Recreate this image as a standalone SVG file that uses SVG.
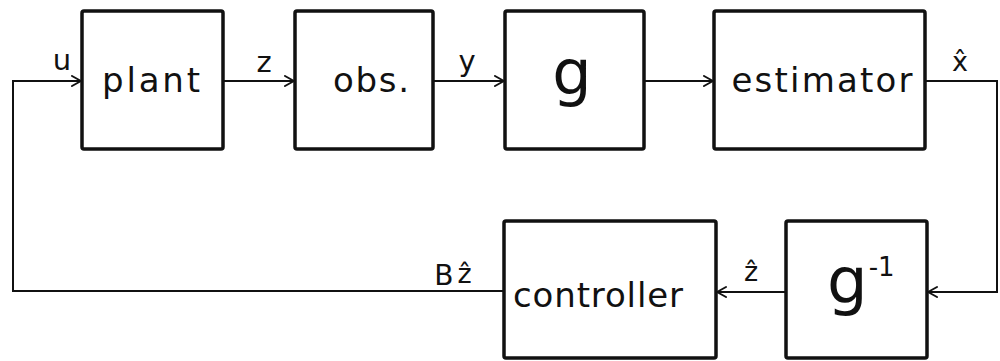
<svg xmlns="http://www.w3.org/2000/svg" width="1000" height="361" viewBox="0 0 1000 361">
  <style>
    .box { fill: #fff; stroke: #111; stroke-width: 3.5; stroke-linejoin: round; }
    .wire { fill: none; stroke: #111; stroke-width: 2; }
    .lbl { font-family: "DejaVu Sans", "Liberation Sans", sans-serif; fill: #111; text-anchor: middle; }
    .left { text-anchor: start; }
    .big { font-size: 34px; }
    .sig { font-size: 29px; }
    .hat { font-size: 27px; }
  </style>
  <defs>
    <marker id="arrow" markerUnits="userSpaceOnUse" markerWidth="14" markerHeight="14" refX="10" refY="6" orient="auto">
      <path d="M1,1 L10,6 L1,11" fill="none" stroke="#111" stroke-width="2" stroke-linecap="round" stroke-linejoin="round"/>
    </marker>
  </defs>

  <!-- connectors -->
  <g id="connectors">
    <path class="wire" d="M504,291 H13 V81 H81" marker-end="url(#arrow)"/>
    <path class="wire" d="M223,81 H294" marker-end="url(#arrow)"/>
    <path class="wire" d="M433,81 H504" marker-end="url(#arrow)"/>
    <path class="wire" d="M644,81 H713" marker-end="url(#arrow)"/>
    <path class="wire" d="M925,81 H997 V292 H928" marker-end="url(#arrow)"/>
    <path class="wire" d="M786,292 H717" marker-end="url(#arrow)"/>
    <text class="lbl sig" x="62" y="70">u</text>
    <text class="lbl sig" x="264" y="72">z</text>
    <text class="lbl sig" x="467" y="71">y</text>
    <text class="lbl hat" x="960" y="71">x̂</text>
    <text class="lbl hat" x="751" y="281">ẑ</text>
    <text class="lbl" x="453" y="285"><tspan font-size="28">B</tspan><tspan font-size="27" dx="4" dy="-2">ẑ</tspan></text>
  </g>

  <!-- blocks -->
  <g id="plant">
    <rect class="box" x="82" y="11" width="141" height="138" rx="2"/>
    <text class="lbl big" x="151" y="92" textLength="98" lengthAdjust="spacing">plant</text>
  </g>
  <g id="obs">
    <rect class="box" x="295" y="11" width="138" height="138" rx="2"/>
    <text class="lbl big" x="371" y="92" textLength="76" lengthAdjust="spacing">obs.</text>
  </g>
  <g id="g">
    <rect class="box" x="505" y="11" width="139" height="138" rx="2"/>
    <text class="lbl" x="572" y="94" font-size="62">g</text>
  </g>
  <g id="estimator">
    <rect class="box" x="714" y="11" width="211" height="138" rx="2"/>
    <text class="lbl big" x="822" y="92" textLength="181" lengthAdjust="spacing">estimator</text>
  </g>
  <g id="controller">
    <rect class="box" x="504" y="221" width="212" height="137" rx="2"/>
    <text class="lbl big" x="598" y="307" textLength="170" lengthAdjust="spacing">controller</text>
  </g>
  <g id="g-inverse">
    <rect class="box" x="786" y="221" width="141" height="137" rx="2"/>
    <!-- inverse map: g with a raised -1 exponent -->
    <text class="lbl left" x="827" y="303" font-size="64">g<tspan font-size="26" dx="1" dy="-27">-1</tspan></text>
  </g>
</svg>
